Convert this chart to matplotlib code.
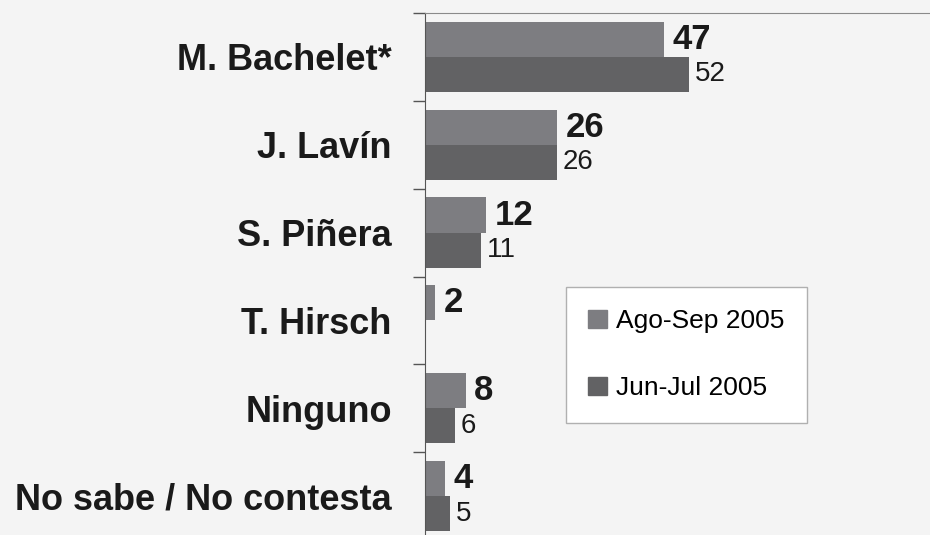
import matplotlib
matplotlib.use("Agg")
import matplotlib.pyplot as plt
from matplotlib.patches import Patch
import numpy as np

# Data
CATEGORIES = ["M. Bachelet*", "J. Lavín", "S. Piñera", "T. Hirsch", "Ninguno", "No sabe / No contesta"]
AGO_SEP = [47, 26, 12, 2, 8, 4]
JUN_JUL = [52, 26, 11, None, 6, 5]
SERIES_NAMES = ["Ago-Sep 2005", "Jun-Jul 2005"]

BG = "#f4f4f4"
C_AGO = "#7d7d81"
C_JUN = "#626264"

plt.rcParams['font.family'] = ['Liberation Sans', 'DejaVu Sans']

fig = plt.figure(figsize=(9.3, 5.35), dpi=100, facecolor=BG)
ax = fig.add_axes([425 / 930, -5 / 535, 505 / 930, 527 / 535])
ax.set_facecolor(BG)

y = np.arange(len(CATEGORIES))
h = 0.4

ax.barh(y - h / 2, AGO_SEP, height=h, color=C_AGO, label=SERIES_NAMES[0])
jun_y = [yy + h / 2 for yy, v in zip(y, JUN_JUL) if v is not None]
jun_v = [v for v in JUN_JUL if v is not None]
ax.barh(jun_y, jun_v, height=h, color=C_JUN, label=SERIES_NAMES[1])

# value labels
for yy, v in zip(y, AGO_SEP):
    ax.annotate(str(v), (v, yy - h / 2), xytext=(6, 0), textcoords="offset points",
                ha="left", va="center", fontsize=25, fontweight="bold", color="#1a1a1a")
for yy, v in zip(y, JUN_JUL):
    if v is None:
        continue
    ax.annotate(str(v), (v, yy + h / 2), xytext=(4, 0), textcoords="offset points",
                ha="left", va="center", fontsize=20, color="#1a1a1a")

ax.set_xlim(0, 99.4)
ax.set_ylim(len(CATEGORIES) - 0.5, -0.5)
ax.set_xticks([])

# boundary ticks (major) and category labels (minor)
ax.set_yticks(np.arange(-0.5, len(CATEGORIES), 1.0))
ax.set_yticklabels([])
ax.tick_params(axis="y", which="major", length=8.6, width=1, color="#555555", direction="out")
ax.set_yticks(y, minor=True)
ax.set_yticklabels(CATEGORIES, minor=True, fontsize=26, fontweight="bold", color="#1a1a1a")
ax.tick_params(axis="y", which="minor", length=0, pad=24)

for s in ["right", "bottom"]:
    ax.spines[s].set_visible(False)
ax.spines["left"].set_color("#555555")
ax.spines["top"].set_color("#8a8a8a")

handles = [Patch(color=C_AGO), Patch(color=C_JUN)]
leg = fig.legend(handles, SERIES_NAMES, loc="upper left",
                 bbox_to_anchor=(566 / 930, 1 - 287 / 535), fontsize=19,
                 frameon=True, fancybox=False, framealpha=1, edgecolor="#b0b0b0",
                 facecolor="white", handlelength=0.7, handleheight=0.7,
                 handletextpad=0.35, labelspacing=1.63, borderpad=0.85, borderaxespad=0)
leg.get_frame().set_linewidth(1)

fig.savefig("out.png", dpi=100, facecolor=BG)
